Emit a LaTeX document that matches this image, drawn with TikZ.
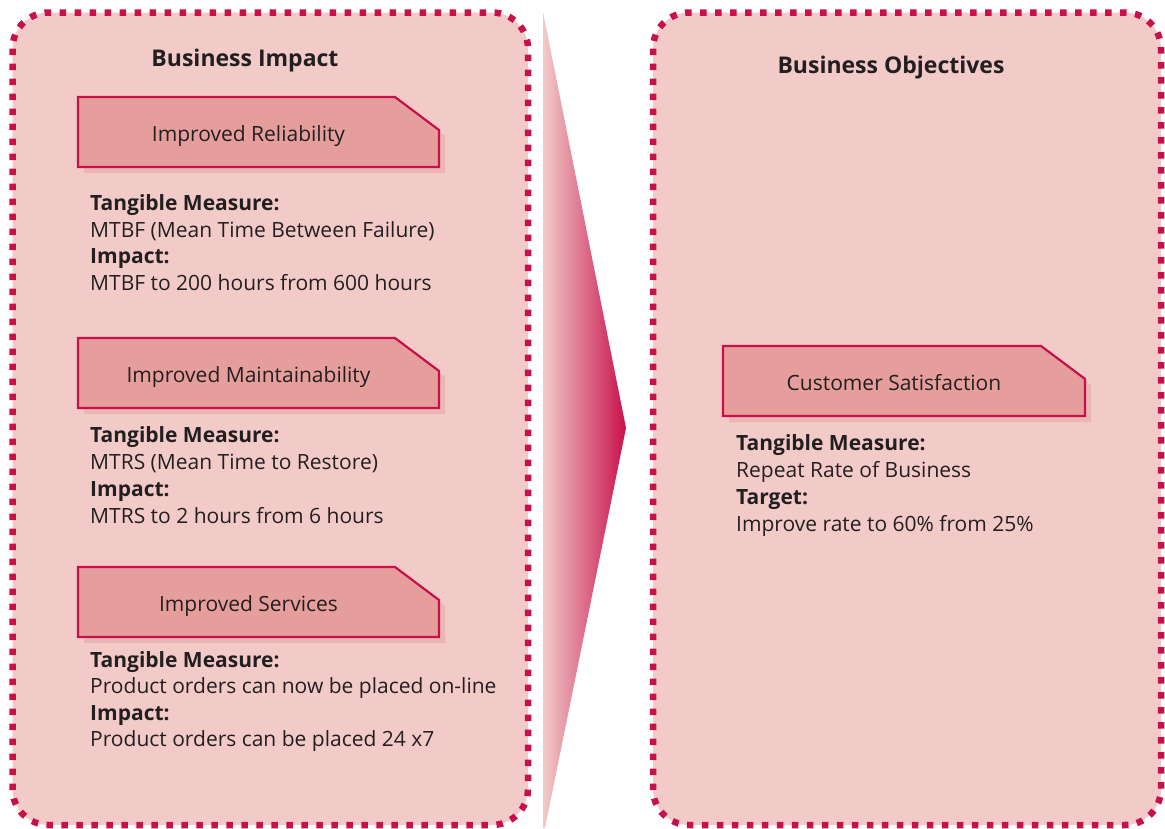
\documentclass[tikz,border=0pt]{standalone}
\usepackage{fontspec}
\setmainfont{Open Sans}
\definecolor{crim}{HTML}{C8104A}
\definecolor{bgpink}{HTML}{F2CBC9}
\definecolor{boxpink}{HTML}{E69E9C}
\definecolor{shad}{HTML}{E9B6B4}
\definecolor{txt}{HTML}{231F20}
\tikzset{
  panel/.style={fill=bgpink, draw=crim, line width=6.5pt, dash pattern=on 6.5pt off 8.5pt, rounded corners=36pt},
  tagline/.style={fill=boxpink, draw=crim, line width=2.2pt, line join=miter},
  tagshadow/.style={fill=shad},
  tagtext/.style={anchor=base, inner sep=0pt, text=txt, font=\fontsize{21}{25}\selectfont},
  lbl/.style={anchor=base west, inner sep=0pt, text=txt, font=\fontsize{21}{25}\selectfont},
  blbl/.style={lbl, font=\fontsize{21}{25}\selectfont\bfseries},
  ttl/.style={anchor=base, inner sep=0pt, text=txt, font=\fontsize{23}{27}\selectfont\bfseries}
}
\newcommand{\tagbox}[6]{%
  \fill[tagshadow] (#2+6,#3+6) -- (#4-44+6,#3+6) -- (#4+6,#3+33+6) -- (#4+6,#5+6) -- (#2+6,#5+6) -- cycle;
  \draw[tagline] (#2,#3) -- (#4-44,#3) -- (#4,#3+33) -- (#4,#5) -- (#2,#5) -- cycle;
  \node[tagtext] (#1) at ({(#2+#4)/2-10},{#3+44}) {#6};
}
\begin{document}
\begin{tikzpicture}[x=1pt,y=-1pt]
\useasboundingbox (0,0) rectangle (1165,828);
% panels
\path[panel] (12.5,12.5) rectangle (528,825) ;
\path[panel] (653,12.5) rectangle (1161,825);
% arrow
\shade[left color=bgpink, right color=crim] (543,12) -- (626,428) -- (545,828) -- (543,828) -- cycle;
% titles
\node[ttl] (impact) at (245,66.7) {Business Impact};
\node[ttl] (objectives) at (891,73.3) {Business Objectives};
% left tag boxes
\tagbox{rel}{78}{97}{439}{167}{Improved Reliability}
\tagbox{maint}{78}{338}{439}{408}{Improved Maintainability}
\tagbox{serv}{78}{567}{439}{637}{Improved Services}
\tagbox{cust}{723}{346}{1085}{416}{Customer Satisfaction}
% block 1
\node[blbl] (r1) at (90,210.7) {Tangible Measure:};
\node[lbl] (r2) at (90,237.3) {MTBF (Mean Time Between Failure)};
\node[blbl] (r3) at (90,263.7) {Impact:};
\node[lbl] (r4) at (90,290.3) {MTBF to 200 hours from 600 hours};
% block 2
\node[blbl] (m1) at (90,442) {Tangible Measure:};
\node[lbl] (m2) at (90,469) {MTRS (Mean Time to Restore)};
\node[blbl] (m3) at (90,496) {Impact:};
\node[lbl] (m4) at (90,523) {MTRS to 2 hours from 6 hours};
% block 3
\node[blbl] (s1) at (90,667.3) {Tangible Measure:};
\node[lbl] (s2) at (90,693.7) {Product orders can now be placed on-line};
\node[blbl] (s3) at (90,720) {Impact:};
\node[lbl] (s4) at (90,746.3) {Product orders can be placed 24 x7};
% right block
\node[blbl] (c1) at (736,450.7) {Tangible Measure:};
\node[lbl] (c2) at (736,477.7) {Repeat Rate of Business};
\node[blbl] (c3) at (736,504.3) {Target:};
\node[lbl] (c4) at (736,531) {Improve rate to 60\% from 25\%};
\end{tikzpicture}
\end{document}
